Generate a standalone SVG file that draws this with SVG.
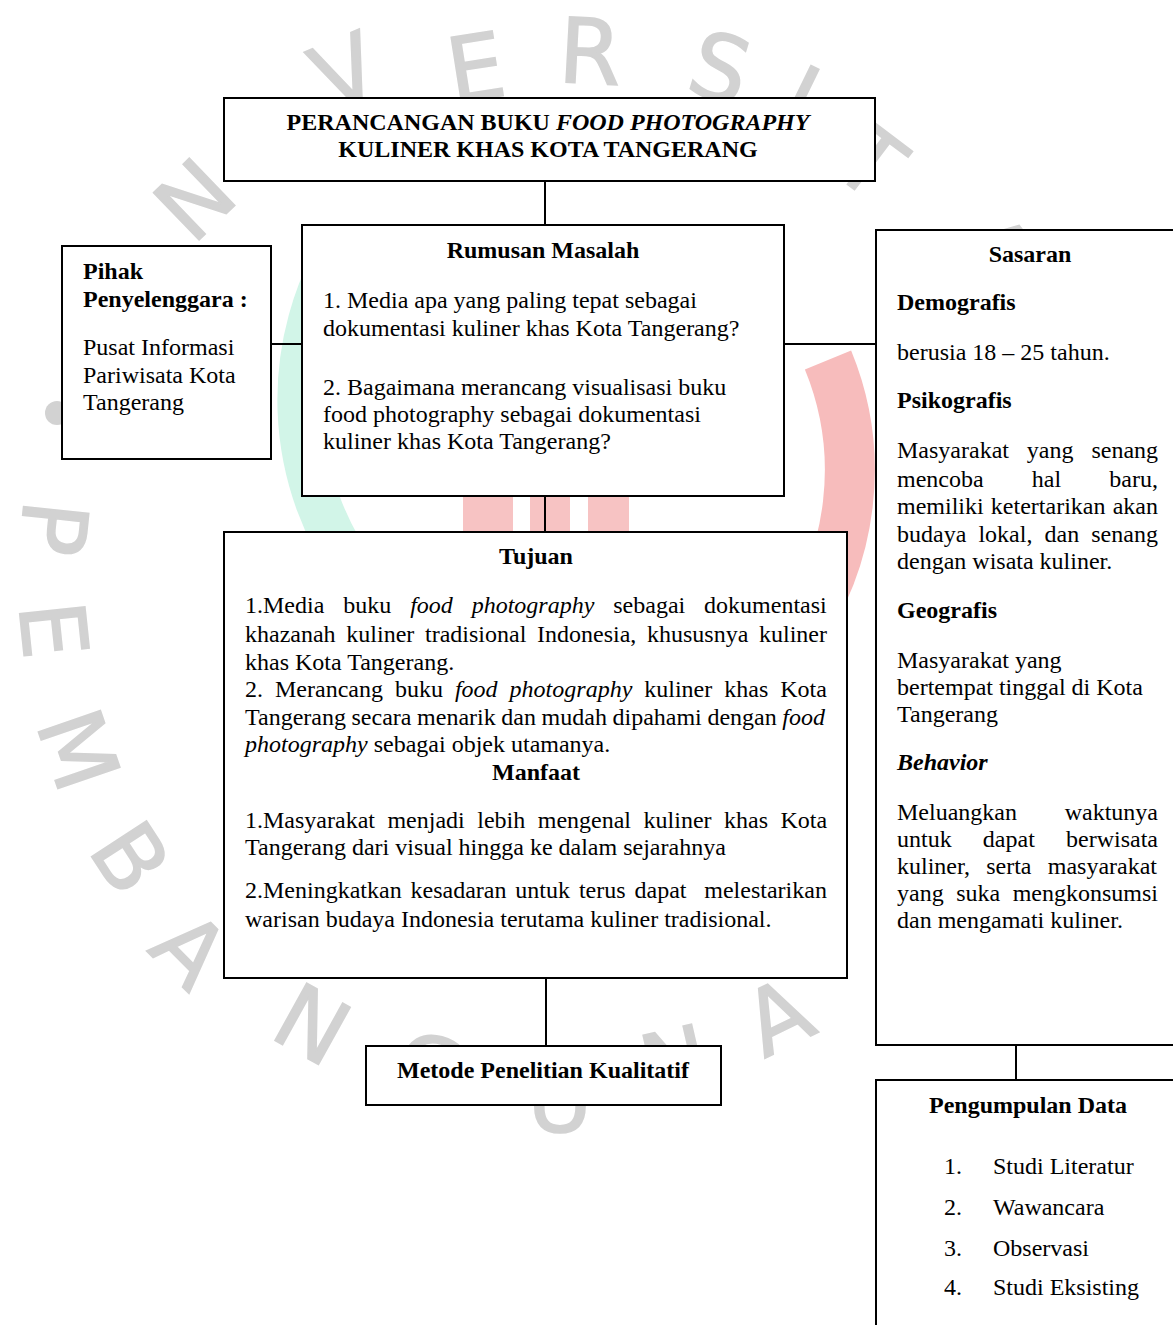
<svg xmlns="http://www.w3.org/2000/svg" width="1173" height="1325" viewBox="0 0 1173 1325">
<style>
.box{fill:#fff;stroke:#000;stroke-width:2}
.t{font-family:"Liberation Serif","Times New Roman",serif;font-size:24px;fill:#000}
.b{font-weight:bold}
.i{font-style:italic}
.c{text-anchor:middle}
.wm{font-family:"DejaVu Sans","Liberation Sans",sans-serif;font-size:90px;fill:#d2d2d2;stroke:#d2d2d2;stroke-width:1.5;text-anchor:middle;dominant-baseline:central}
.conn line{stroke:#000;stroke-width:2}
</style>
<rect width="1173" height="1325" fill="#fff"/>
<g id="watermark">
<path d="M346,240 A300,300 0 0,0 360,580" fill="none" stroke="#d2f5e8" stroke-width="45"/>
<path d="M828,360 A290,290 0 0,1 795,640" fill="none" stroke="#f7bcbc" stroke-width="50"/>
<rect x="463" y="460" width="50" height="100" fill="#f7c3c3"/>
<rect x="530" y="460" width="40" height="100" fill="#f7c3c3"/>
<rect x="588" y="450" width="41" height="110" fill="#f7c3c3"/>
<text class="wm" transform="translate(195,200) rotate(-44)">N</text>
<text class="wm" transform="translate(345,72) rotate(-23)">V</text>
<text class="wm" transform="translate(476,68) rotate(-9)">E</text>
<text class="wm" transform="translate(590,52) rotate(3)">R</text>
<text class="wm" transform="translate(720,68) rotate(17)">S</text>
<text class="wm" transform="translate(800,98) rotate(26)">I</text>
<text class="wm" transform="translate(870,162) rotate(37)">T</text>
<text class="wm" transform="translate(995,250) rotate(53)">A</text>
<circle cx="57" cy="413" r="12" fill="#d2d2d2"/>
<text class="wm" transform="translate(53,528) rotate(96)">P</text>
<text class="wm" transform="translate(53,630) rotate(84)">E</text>
<text class="wm" transform="translate(78,750) rotate(71)">M</text>
<text class="wm" transform="translate(130,858) rotate(57)">B</text>
<text class="wm" transform="translate(190,950) rotate(45)">A</text>
<text class="wm" transform="translate(312,1025) rotate(29)">N</text>
<text class="wm" transform="translate(430,1070) rotate(15)">G</text>
<text class="wm" transform="translate(560,1100) rotate(0)">U</text>
<text class="wm" transform="translate(675,1063) rotate(-13)">N</text>
<text class="wm" transform="translate(778,1017) rotate(-26)">A</text>
</g>
<g class="conn" id="connectors">
<line x1="545" y1="181" x2="545" y2="225"/>
<line x1="271" y1="344" x2="302" y2="344"/>
<line x1="784" y1="344" x2="876" y2="344"/>
<line x1="545" y1="496" x2="545" y2="532"/>
<line x1="546" y1="978" x2="546" y2="1046"/>
<line x1="1016" y1="1045" x2="1016" y2="1080"/>
</g>
<g id="title">
<rect class="box" x="224" y="98" width="651" height="83"/>
<text class="t b c" x="548" y="130">PERANCANGAN BUKU <tspan class="i">FOOD PHOTOGRAPHY</tspan></text>
<text class="t b c" x="548" y="157">KULINER KHAS KOTA TANGERANG</text>
</g>
<g id="pihak">
<rect class="box" x="62" y="246" width="209" height="213"/>
<text class="t b" x="83" y="279">Pihak</text>
<text class="t b" x="83" y="307">Penyelenggara :</text>
<text class="t" x="83" y="355">Pusat Informasi</text>
<text class="t" x="83" y="383">Pariwisata Kota</text>
<text class="t" x="83" y="410">Tangerang</text>
</g>
<g id="rumusan">
<rect class="box" x="302" y="225" width="482" height="271"/>
<text class="t b c" x="543" y="258">Rumusan Masalah</text>
<text class="t" x="323" y="308">1. Media apa yang paling tepat sebagai</text>
<text class="t" x="323" y="336">dokumentasi kuliner khas Kota Tangerang?</text>
<text class="t" x="323" y="395">2. Bagaimana merancang visualisasi buku</text>
<text class="t" x="323" y="422">food photography sebagai dokumentasi</text>
<text class="t" x="323" y="449">kuliner khas Kota Tangerang?</text>
</g>
<g id="sasaran">
<rect class="box" x="876" y="230" width="310" height="815"/>
<text class="t b c" x="1030" y="262">Sasaran</text>
<text class="t b" x="897" y="310">Demografis</text>
<text class="t" x="897" y="360">berusia 18 – 25 tahun.</text>
<text class="t b" x="897" y="408">Psikografis</text>
<text class="t" x="897" y="458" word-spacing="11.9">Masyarakat yang senang</text>
<text class="t" x="897" y="487" word-spacing="42.2">mencoba hal baru,</text>
<text class="t" x="897" y="514" word-spacing="1.2">memiliki ketertarikan akan</text>
<text class="t" x="897" y="542" word-spacing="6.1">budaya lokal, dan senang</text>
<text class="t" x="897" y="569">dengan wisata kuliner.</text>
<text class="t b" x="897" y="618">Geografis</text>
<text class="t" x="897" y="668">Masyarakat yang</text>
<text class="t" x="897" y="695">bertempat tinggal di Kota</text>
<text class="t" x="897" y="722">Tangerang</text>
<text class="t b i" x="897" y="770">Behavior</text>
<text class="t" x="897" y="820" word-spacing="41.7">Meluangkan waktunya</text>
<text class="t" x="897" y="847" word-spacing="25.2">untuk dapat berwisata</text>
<text class="t" x="897" y="874" word-spacing="10.2">kuliner, serta masyarakat</text>
<text class="t" x="897" y="901" word-spacing="6.5">yang suka mengkonsumsi</text>
<text class="t" x="897" y="928">dan mengamati kuliner.</text>
</g>
<g id="tujuan">
<rect class="box" x="224" y="532" width="623" height="446"/>
<text class="t b c" x="536" y="564">Tujuan</text>
<text class="t" x="245" y="613" word-spacing="12.9">1.Media buku <tspan class="i">food photography</tspan> sebagai dokumentasi</text>
<text class="t" x="245" y="642" word-spacing="4.7">khazanah kuliner tradisional Indonesia, khususnya kuliner</text>
<text class="t" x="245" y="670">khas Kota Tangerang.</text>
<text class="t" x="245" y="697" word-spacing="6">2. Merancang buku <tspan class="i">food photography</tspan> kuliner khas Kota</text>
<text class="t" x="245" y="725" word-spacing="-0.4">Tangerang secara menarik dan mudah dipahami dengan <tspan class="i">food</tspan></text>
<text class="t" x="245" y="752"><tspan class="i">photography</tspan> sebagai objek utamanya.</text>
<text class="t b c" x="536" y="780">Manfaat</text>
<text class="t" x="245" y="828" word-spacing="6.5">1.Masyarakat menjadi lebih mengenal kuliner khas Kota</text>
<text class="t" x="245" y="855">Tangerang dari visual hingga ke dalam sejarahnya</text>
<text class="t" x="245" y="898" word-spacing="2.9" style="white-space:pre">2.Meningkatkan kesadaran untuk terus dapat  melestarikan</text>
<text class="t" x="245" y="927">warisan budaya Indonesia terutama kuliner tradisional.</text>
</g>
<g id="metode">
<rect class="box" x="366" y="1046" width="355" height="59"/>
<text class="t b c" x="543" y="1078">Metode Penelitian Kualitatif</text>
</g>
<g id="pengumpulan">
<rect class="box" x="876" y="1080" width="310" height="260"/>
<text class="t b c" x="1028" y="1113">Pengumpulan Data</text>
<text class="t" x="944" y="1174">1.</text><text class="t" x="993" y="1174">Studi Literatur</text>
<text class="t" x="944" y="1215">2.</text><text class="t" x="993" y="1215">Wawancara</text>
<text class="t" x="944" y="1256">3.</text><text class="t" x="993" y="1256">Observasi</text>
<text class="t" x="944" y="1295">4.</text><text class="t" x="993" y="1295">Studi Eksisting</text>
</g>
</svg>
